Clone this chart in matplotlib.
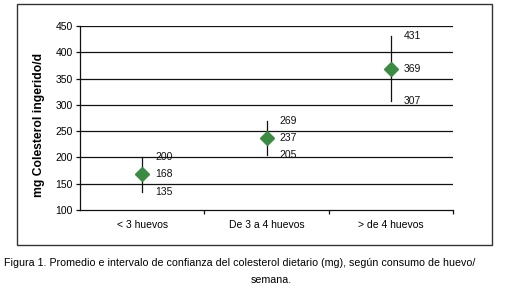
import matplotlib
matplotlib.use("Agg")
import matplotlib.pyplot as plt
from matplotlib.patches import Rectangle

categories = ["< 3 huevos", "De 3 a 4 huevos", "> de 4 huevos"]
means = [168, 237, 369]
lower = [135, 205, 307]
upper = [200, 269, 431]
yticks = [100, 150, 200, 250, 300, 350, 400, 450]

FONT = ["Liberation Sans Narrow", "Liberation Sans", "DejaVu Sans"]
plt.rcParams["font.family"] = FONT

W, H = 518, 289
fig = plt.figure(figsize=(W / 100, H / 100), dpi=100)
fig.patch.set_facecolor("white")

# outer frame
fig.patches.append(Rectangle((17 / W, 1 - 245 / H), (492 - 17) / W, (245 - 4) / H,
                             transform=fig.transFigure, fill=False,
                             edgecolor="#333333", linewidth=1.0))

ax = fig.add_axes([80 / W, 1 - 210 / H, (453 - 80) / W, (210 - 26) / H])
ax.set_xlim(0, 3)
ax.set_ylim(100, 450)
ax.set_yticks(yticks)
ax.set_yticklabels([str(v) for v in yticks], fontsize=7.5)
for v in yticks[1:]:
    ax.axhline(v, color="#111111", linewidth=0.9, zorder=1)

xs = [i + 0.5 for i in range(len(categories))]
ax.set_xticks(xs)
ax.set_xticklabels(categories, fontsize=7.5)
ax.tick_params(axis="x", which="major", length=0, pad=7)
ax.set_xticks([1, 2, 3], minor=True)
ax.tick_params(axis="x", which="minor", length=3, width=0.9, color="#111111")
ax.tick_params(axis="y", length=3, width=0.9, color="#111111", pad=2)

for s in ["top", "right"]:
    ax.spines[s].set_visible(False)
for s in ["left", "bottom"]:
    ax.spines[s].set_linewidth(0.9)
    ax.spines[s].set_color("#111111")

for x, m, lo, hi in zip(xs, means, lower, upper):
    ax.plot([x, x], [lo, hi], color="#111111", linewidth=0.9, zorder=3)
    ax.plot([x], [m], marker="D", markersize=7, color="#3b8b43",
            markeredgecolor="#3b8b43", zorder=4)
    for v in (hi, m, lo):
        ax.annotate(str(v), (x, v), xytext=(13, 0), textcoords="offset pixels",
                    va="center", ha="left", fontsize=7.5, color="#111111")

ax.set_ylabel("mg Colesterol ingerido/d", fontsize=8.7, fontweight="bold")
ax.yaxis.set_label_coords(-(80 - 45) / (453 - 80), 0.46)

cap_font = ["Liberation Sans", "DejaVu Sans"]
fig.text(240 / W, 1 - 263 / H,
         "Figura 1. Promedio e intervalo de confianza del colesterol dietario (mg), según consumo de huevo/",
         ha="center", va="center", fontsize=7.7, family=cap_font)
fig.text(271 / W, 1 - 280 / H, "semana.", ha="center", va="center", fontsize=7.7,
         family=cap_font)

fig.savefig("out.png", dpi=100, facecolor="white")
